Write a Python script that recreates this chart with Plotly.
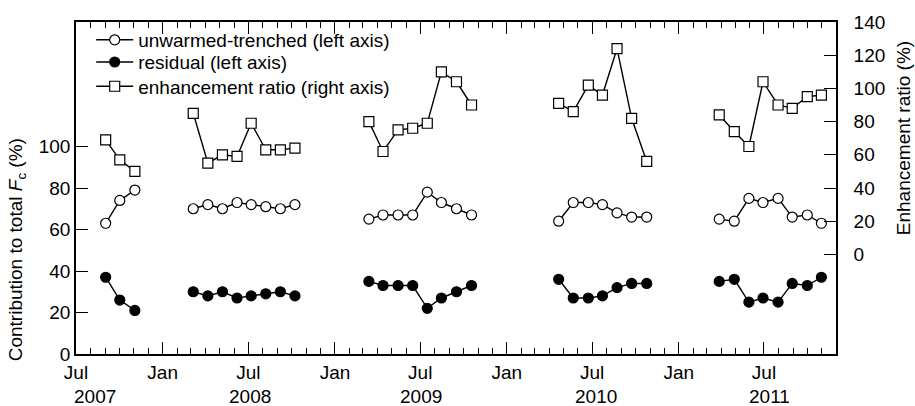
import pandas as pd
import plotly.graph_objects as go

# Sampling dates and values for each field season
dates_2007 = ["2007-09-02", "2007-10-02", "2007-11-03"]
unwarmed_2007 = [63, 74, 79]
residual_2007 = [37, 26, 21]
ratio_2007 = [69, 57, 50]

dates_2008 = ["2008-03-06", "2008-04-06", "2008-05-07", "2008-06-07",
              "2008-07-07", "2008-08-07", "2008-09-07", "2008-10-08"]
unwarmed_2008 = [70, 72, 70, 73, 72, 71, 70, 72]
residual_2008 = [30, 28, 30, 27, 28, 29, 30, 28]
ratio_2008 = [85, 55, 60, 59, 79, 63, 63, 64]

dates_2009 = ["2009-03-14", "2009-04-13", "2009-05-15", "2009-06-15",
              "2009-07-16", "2009-08-15", "2009-09-16", "2009-10-18"]
unwarmed_2009 = [65, 67, 67, 67, 78, 73, 70, 67]
residual_2009 = [35, 33, 33, 33, 22, 27, 30, 33]
ratio_2009 = [80, 62, 75, 76, 79, 110, 104, 90]

dates_2010 = ["2010-04-21", "2010-05-22", "2010-06-23", "2010-07-23",
              "2010-08-23", "2010-09-23", "2010-10-25"]
unwarmed_2010 = [64, 73, 73, 72, 68, 66, 66]
residual_2010 = [36, 27, 27, 28, 32, 34, 34]
ratio_2010 = [91, 86, 102, 96, 124, 82, 56]

dates_2011 = ["2011-03-28", "2011-04-29", "2011-05-30", "2011-06-29",
              "2011-07-31", "2011-08-30", "2011-10-01", "2011-10-31"]
unwarmed_2011 = [65, 64, 75, 73, 75, 66, 67, 63]
residual_2011 = [35, 36, 25, 27, 25, 34, 33, 37]
ratio_2011 = [84, 74, 65, 104, 90, 88, 95, 96]

year_labels = ["2007", "2008", "2009", "2010", "2011"]
year_label_shift = [19, 2, 1, 4, 6]
left_ticks = [0, 20, 40, 60, 80, 100]
right_ticks = [0, 20, 40, 60, 80, 100, 120, 140]

seasons = [
    (dates_2007, unwarmed_2007, residual_2007, ratio_2007),
    (dates_2008, unwarmed_2008, residual_2008, ratio_2008),
    (dates_2009, unwarmed_2009, residual_2009, ratio_2009),
    (dates_2010, unwarmed_2010, residual_2010, ratio_2010),
    (dates_2011, unwarmed_2011, residual_2011, ratio_2011),
]


def joined(idx):
    """Concatenate one column of every season, breaking the line between seasons."""
    out = []
    for s in seasons:
        out += list(s[idx]) + [None]
    return out[:-1]


x_all = joined(0)
FONT = "Liberation Sans, Arial, Helvetica, sans-serif"
FS = 19
BLACK = "#000000"
line_style = dict(color=BLACK, width=1.4)

fig = go.Figure()
fig.add_trace(go.Scatter(
    x=x_all, y=joined(1), mode="lines+markers", name="unwarmed-trenched (left axis)",
    line=line_style, connectgaps=False, legend="legend",
    marker=dict(symbol="circle", size=10, color="white", line=dict(color=BLACK, width=1.2)),
))
fig.add_trace(go.Scatter(
    x=x_all, y=joined(2), mode="lines+markers", name="residual (left axis)",
    line=line_style, connectgaps=False, legend="legend2",
    marker=dict(symbol="circle", size=10, color=BLACK, line=dict(color=BLACK, width=1.2)),
))
fig.add_trace(go.Scatter(
    x=x_all, y=joined(3), mode="lines+markers", name="enhancement ratio (right axis)",
    yaxis="y2", line=line_style, connectgaps=False, legend="legend3",
    marker=dict(symbol="square", size=10, color="white", line=dict(color=BLACK, width=1.2)),
))

# Major ticks every January and July, minor ticks every month
major = pd.date_range("2007-07-01", "2011-07-01", freq="6MS")
major_text = ["Jul" if d.month == 7 else "Jan" for d in major]
minor = pd.date_range("2007-07-01", "2011-12-01", freq="MS")


def legend_row(y_centre):
    return dict(x=0.02, y=y_centre, xanchor="left", yanchor="middle",
                bgcolor="rgba(0,0,0,0)", font=dict(size=FS), itemwidth=37)


time_axis = dict(
    type="date", range=["2007-07-01", "2011-12-01"],
    showgrid=False, zeroline=False,
    showline=True, linecolor=BLACK, linewidth=1.6,
    ticks="inside", ticklen=12, tickwidth=1.4, tickcolor=BLACK,
    tickmode="array", tickvals=list(major),
    minor=dict(tickmode="array", tickvals=list(minor), ticks="inside",
               ticklen=6, tickwidth=1.4, tickcolor=BLACK, showgrid=False),
)

fig.update_layout(
    width=915, height=406,
    margin=dict(l=76, r=79, t=19, b=52),
    paper_bgcolor="white", plot_bgcolor="white",
    font=dict(family=FONT, size=FS, color=BLACK),
    showlegend=True,
    legend=legend_row(0.946),
    legend2=legend_row(0.879),
    legend3=legend_row(0.806),
    xaxis=dict(time_axis, ticktext=major_text, tickfont=dict(size=FS)),
    # same time scale along the top edge, ticks only
    xaxis2=dict(time_axis, overlaying="x", side="top", matches="x",
                showticklabels=False),
    yaxis=dict(
        range=[0, 160], showgrid=False, zeroline=False,
        showline=True, linecolor=BLACK, linewidth=1.6,
        ticks="inside", ticklen=12, tickwidth=1.4, tickcolor=BLACK,
        tickmode="array", tickvals=left_ticks, tickfont=dict(size=FS),
    ),
    yaxis2=dict(
        range=[-60, 140], overlaying="y", side="right",
        showgrid=False, zeroline=False,
        showline=True, linecolor=BLACK, linewidth=1.6,
        ticks="inside", ticklen=12, tickwidth=1.4, tickcolor=BLACK,
        tickmode="array", tickvals=right_ticks, tickfont=dict(size=FS),
        ticklabelstandoff=12,
    ),
)

# invisible carrier so the top axis is drawn
fig.add_trace(go.Scatter(x=[x_all[0]], y=[None], xaxis="x2", mode="markers",
                         showlegend=False, hoverinfo="skip"))

# Axis titles centred on the labelled part of each axis
fig.add_annotation(
    text="Contribution to total <i>F</i><sub>c</sub> (%)", textangle=-90,
    xref="paper", x=-0.0776, yref="y", y=50, showarrow=False,
    xanchor="center", yanchor="middle", font=dict(size=FS),
)
fig.add_annotation(
    text="Enhancement ratio (%)", textangle=-90,
    xref="paper", x=(903 - 76) / 760, yref="y2", y=70, showarrow=False,
    xanchor="center", yanchor="middle", font=dict(size=FS),
)

# Year labels under each July tick
for yr, shift in zip(year_labels, year_label_shift):
    fig.add_annotation(
        text=yr, xref="x", x=f"{yr}-07-01", yref="paper", y=-0.1275,
        xshift=shift, showarrow=False, xanchor="center", yanchor="middle",
        font=dict(size=FS),
    )

fig.write_html("out.html")
